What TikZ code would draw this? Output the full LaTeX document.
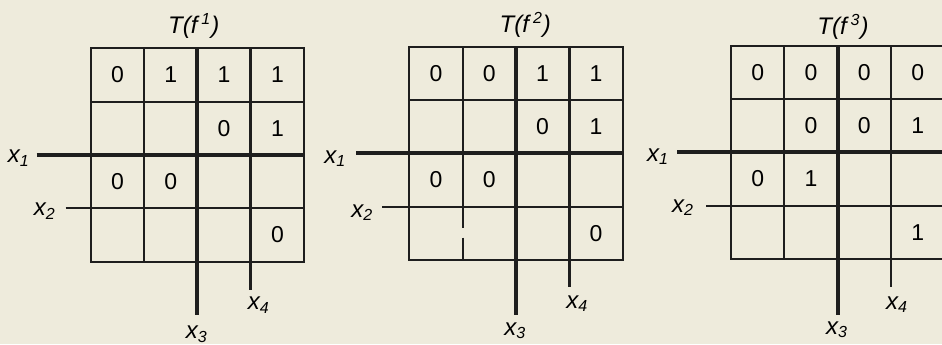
\documentclass[tikz,border=0pt]{standalone}
\usepackage{fontspec}
\setmainfont{Liberation Sans}
\usetikzlibrary{positioning}
\definecolor{paper}{HTML}{EEEBDC}
\definecolor{ink}{HTML}{1E1E1E}
\tikzset{cell/.style={inner sep=0pt,font=\fontsize{11.5}{13}\selectfont},
  lbl/.style={inner sep=0pt,font=\fontsize{12}{14}\selectfont\itshape},
  frame/.style={draw=ink,line width=1pt},
  heavy/.style={draw=ink,line width=2pt},
  medium/.style={draw=ink,line width=1.4pt}}
\begin{document}
\begin{tikzpicture}[x=0.5pt,y=-0.5pt]
\useasboundingbox[fill=paper] (0,0) rectangle (942,344);
% map 1
\begin{scope}[shift={(90.7,48.3)}]
\draw[frame] (0,0) rectangle (213.3,213.3);
\draw[frame] (53.3,0)--(53.3,213.3) (0,53.3)--(213.3,53.3) (0,160)--(213.3,160);
\draw[heavy] (-54,106.7)--(213.3,106.7) (106.7,0)--(106.7,267);
\draw[medium] (160,0)--(160,242);
\draw[frame] (-25,160)--(0,160);
\node[lbl] (t1) at (103,-22) {T(f\,\textsuperscript{1})};
\node[lbl] (a1) at (-72,110) {x\textsubscript{1}};
\node[lbl] (b1) at (-46,163) {x\textsubscript{2}};
\node[lbl] (c1) at (106,286) {x\textsubscript{3}};
\node[lbl] (d1) at (168,257) {x\textsubscript{4}};
\node[cell] (m1a) at (26.7,26.7) {0};
\node[cell] (m1b) at (80,26.7) {1};
\node[cell] (m1c) at (133.3,26.7) {1};
\node[cell] (m1d) at (186.7,26.7) {1};
\node[cell] (m1e) at (133.3,80) {0};
\node[cell] (m1f) at (186.7,80) {1};
\node[cell] (m1g) at (26.7,133.3) {0};
\node[cell] (m1h) at (80,133.3) {0};
\node[cell] (m1i) at (186.7,186.7) {0};
\end{scope}
% map 2
\begin{scope}[shift={(409.3,46.7)}]
\draw[frame] (0,0) rectangle (213.3,213.3);
\draw[frame] (53.3,0)--(53.3,181) (53.3,191)--(53.3,213.3)
  (0,53.3)--(213.3,53.3) (0,160)--(213.3,160);
\draw[heavy] (-53,106.7)--(213.3,106.7) (106.7,0)--(106.7,268);
\draw[medium] (160,0)--(160,240);
\draw[frame] (-27,160)--(0,160);
\node[lbl] (t2) at (116,-22) {T(f\,\textsuperscript{2})};
\node[lbl] (a2) at (-74,112) {x\textsubscript{1}};
\node[lbl] (b2) at (-47,166) {x\textsubscript{2}};
\node[lbl] (c2) at (106,284) {x\textsubscript{3}};
\node[lbl] (d2) at (168,257) {x\textsubscript{4}};
\node[cell] (m2a) at (26.7,26.7) {0};
\node[cell] (m2b) at (80,26.7) {0};
\node[cell] (m2c) at (133.3,26.7) {1};
\node[cell] (m2d) at (186.7,26.7) {1};
\node[cell] (m2e) at (133.3,80) {0};
\node[cell] (m2f) at (186.7,80) {1};
\node[cell] (m2g) at (26.7,133.3) {0};
\node[cell] (m2h) at (80,133.3) {0};
\node[cell] (m2i) at (186.7,186.7) {0};
\end{scope}
% map 3
\begin{scope}[shift={(731,45.7)}]
\draw[frame] (0,0) rectangle (213.3,213.3);
\draw[frame] (53.3,0)--(53.3,213.3) (0,53.3)--(213.3,53.3) (0,160)--(213.3,160);
\draw[heavy] (-54,106.7)--(213.3,106.7) (106.7,0)--(106.7,269);
\draw[medium] (160,0)--(160,241);
\draw[frame] (-25,160)--(0,160);
\node[lbl] (t3) at (112,-19) {T(f\,\textsuperscript{3})};
\node[lbl] (a3) at (-73,111) {x\textsubscript{1}};
\node[lbl] (b3) at (-48,162) {x\textsubscript{2}};
\node[lbl] (c3) at (106,284) {x\textsubscript{3}};
\node[lbl] (d3) at (166,259) {x\textsubscript{4}};
\node[cell] (m3a) at (26.7,26.7) {0};
\node[cell] (m3b) at (80,26.7) {0};
\node[cell] (m3c) at (133.3,26.7) {0};
\node[cell] (m3d) at (186.7,26.7) {0};
\node[cell] (m3e) at (80,80) {0};
\node[cell] (m3f) at (133.3,80) {0};
\node[cell] (m3g) at (186.7,80) {1};
\node[cell] (m3h) at (26.7,133.3) {0};
\node[cell] (m3i) at (80,133.3) {1};
\node[cell] (m3j) at (186.7,186.7) {1};
\end{scope}
\end{tikzpicture}
\end{document}
